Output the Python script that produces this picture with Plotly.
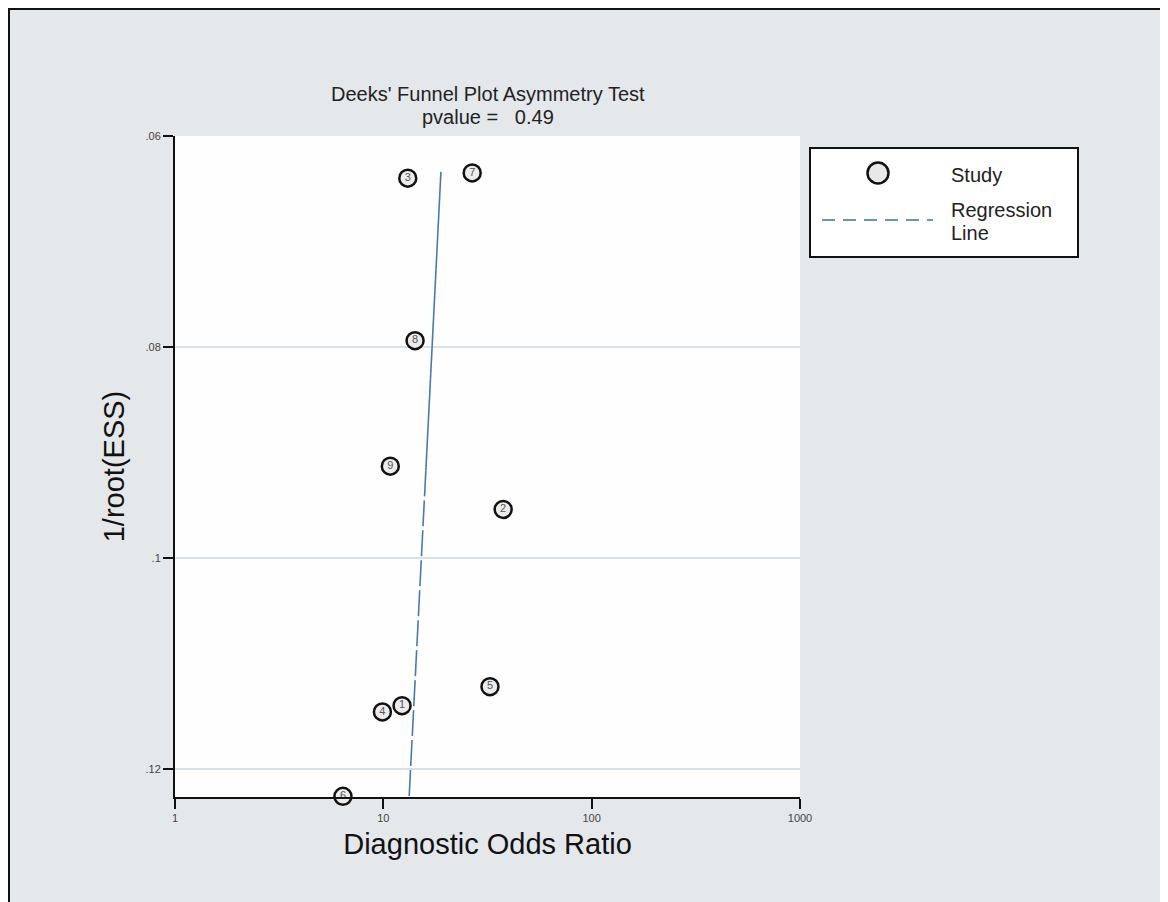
import plotly.graph_objects as go

# ---- data ----
study_ids = ["1", "2", "3", "4", "5", "6", "7", "8", "9"]
dor = [12.3, 37.6, 13.1, 9.9, 32.5, 6.4, 26.7, 14.2, 10.8]
inv_root_ess = [0.1140, 0.0954, 0.0640, 0.1146, 0.1122, 0.1226, 0.0635, 0.0794, 0.0913]

# regression line (solid upper part, dashed lower part)
reg_solid_x = [18.9, 16.0]
reg_solid_y = [0.0634, 0.0917]
reg_dash_x = [16.0, 13.3]
reg_dash_y = [0.0917, 0.12265]

y_ticks = [0.06, 0.08, 0.10, 0.12]
y_ticklabels = [".06", ".08", ".1", ".12"]
x_ticks = [1, 10, 100, 1000]
x_ticklabels = ["1", "10", "100", "1000"]

# page has an 8px body margin; figure sized to fill the rest of the window
W, H = 1160, 894
OFF = 8
# plot area bounds in window pixels
L, R, T, B = 175, 800, 136, 797


def px(x):
    return (x - L) / (R - L)


def py(y):
    return (B - y) / (B - T)


FONT = "Liberation Sans, Arial, sans-serif"
LINE_COL = "#4a7ba6"

fig = go.Figure()

fig.add_trace(go.Scatter(
    x=reg_solid_x, y=reg_solid_y, mode="lines",
    line=dict(color=LINE_COL, width=1.6), showlegend=False, hoverinfo="skip"))
fig.add_trace(go.Scatter(
    x=reg_dash_x, y=reg_dash_y, mode="lines",
    line=dict(color=LINE_COL, width=1.6, dash="26px,4px"), showlegend=False,
    hoverinfo="skip"))

fig.add_trace(go.Scatter(
    x=dor, y=inv_root_ess, mode="markers+text", text=study_ids,
    textposition="middle center",
    textfont=dict(family=FONT, size=11, color="#555"),
    marker=dict(symbol="circle", size=17, color="#ececec",
                line=dict(color="#111", width=2.5)),
    cliponaxis=False, showlegend=False, name="Study"))

shapes = [
    # outer frame
    dict(type="rect", xref="paper", yref="paper",
         x0=px(9), x1=px(1190), y0=py(930), y1=py(9),
         line=dict(color="#111", width=2), fillcolor="rgba(0,0,0,0)", layer="below"),
    # legend box
    dict(type="rect", xref="paper", yref="paper",
         x0=px(810), x1=px(1078), y0=py(257), y1=py(148),
         line=dict(color="#111", width=2), fillcolor="white"),
    # legend circle
    dict(type="circle", xref="paper", yref="paper",
         x0=px(867.5), x1=px(888.5), y0=py(183.5), y1=py(162.5),
         line=dict(color="#111", width=2.5), fillcolor="#e8e8e8"),
    # legend dashed line
    dict(type="line", xref="paper", yref="paper",
         x0=px(822), x1=px(933), y0=py(220), y1=py(220),
         line=dict(color="#7393ad", width=2, dash="13px,8px")),
]

annotations = [
    dict(xref="paper", yref="paper", x=0.5, y=py(94),
         text="Deeks' Funnel Plot Asymmetry Test",
         showarrow=False, xanchor="center", yanchor="middle",
         font=dict(family=FONT, size=20, color="#222")),
    dict(xref="paper", yref="paper", x=0.5, y=py(117),
         text="pvalue =\u00a0\u00a0 0.49",
         showarrow=False, xanchor="center", yanchor="middle",
         font=dict(family=FONT, size=20, color="#222")),
    dict(xref="paper", yref="paper", x=px(949), y=py(175),
         text="Study", showarrow=False, xanchor="left", yanchor="middle", align="left",
         font=dict(family=FONT, size=20, color="#222")),
    dict(xref="paper", yref="paper", x=px(949), y=py(210),
         text="Regression", showarrow=False, xanchor="left", yanchor="middle",
         align="left", font=dict(family=FONT, size=20, color="#222")),
    dict(xref="paper", yref="paper", x=px(949), y=py(233),
         text="Line", showarrow=False, xanchor="left", yanchor="middle",
         align="left", font=dict(family=FONT, size=20, color="#222")),
]

fig.update_layout(
    width=W, height=H,
    margin=dict(l=L - OFF, r=W - (R - OFF), t=T - OFF, b=H - (B - OFF), pad=0),
    paper_bgcolor="#e4e8eb",
    plot_bgcolor="#fefefe",
    showlegend=False,
    shapes=shapes,
    annotations=annotations,
    font=dict(family=FONT, color="#222"),
)

fig.update_xaxes(
    type="log", range=[0, 3],
    tickvals=x_ticks, ticktext=x_ticklabels,
    ticks="outside", ticklen=10, tickwidth=2, tickcolor="#111",
    tickfont=dict(family=FONT, size=11, color="#444"),
    showline=True, linecolor="#111", linewidth=2,
    showgrid=False, zeroline=False,
    title=dict(text="Diagnostic Odds Ratio", standoff=10,
               font=dict(family=FONT, size=29, color="#111")),
)
fig.update_yaxes(
    range=[0.12266, 0.06],
    tickvals=y_ticks, ticktext=y_ticklabels,
    ticks="outside", ticklen=10, tickwidth=2, tickcolor="#111",
    tickfont=dict(family=FONT, size=11, color="#444"),
    showline=True, linecolor="#111", linewidth=2,
    showgrid=True, gridcolor="#d9e2e9", gridwidth=2,
    zeroline=False,
    title=dict(text="1/root(ESS)", standoff=12,
               font=dict(family=FONT, size=29, color="#111")),
)

fig.write_html("out.html")
